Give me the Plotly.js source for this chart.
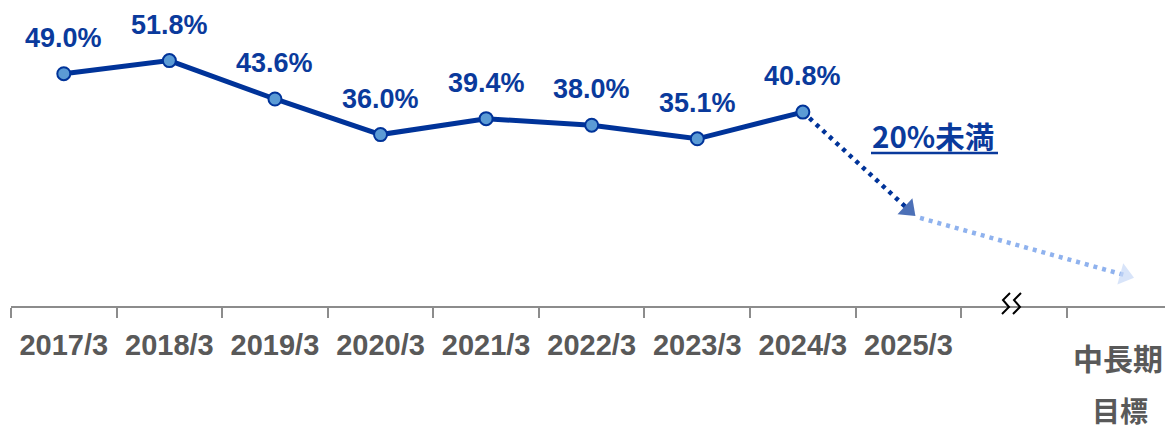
<!DOCTYPE html>
<html>
<head>
<meta charset="utf-8">
<script src="https://cdn.plot.ly/plotly-3.0.1.min.js"></script>
<style>html,body{margin:0;padding:0;background:#fff;}#chart{width:1165px;height:430px;}</style>
</head>
<body>
<div id="chart"></div>
<script>
// ---- data ----
const categories = ['2017/3', '2018/3', '2019/3', '2020/3', '2021/3', '2022/3', '2023/3', '2024/3', '2025/3', '', '中長期目標'];
const rates = [49.0, 51.8, 43.6, 36.0, 39.4, 38.0, 35.1, 40.8];
const targetLabel = '20%未満';
// projected path (category index, value): 2024/3 -> 2025/3 arrow, then -> 中長期 arrow
const projX1 = [7, 8.0];
const projY1 = [40.8, 20.0];
const projX2 = [8.11, 10.05];
const projY2 = [18.2, 6.0];

// ---- chart ----
const FONT = '"Liberation Sans", Arial, "Noto Sans CJK JP", sans-serif';
const CJK = '"Noto Sans CJK JP", "Liberation Sans", sans-serif';
const navy = '#0a3a9c';
const lineBlue = '#003399';
const xIdx = rates.map((_, i) => i);
const XR = [-0.5, 10.43];
const YR = [-0.6, 62.6];

const traces = [
  { x: projX2, y: projY2, mode: 'lines+markers', xaxis: 'x', yaxis: 'y',
    line: { color: '#8fb2ee', width: 4.5, dash: '4px,5px' },
    marker: { symbol: ['circle', 'triangle-up'], size: [0, 19], color: '#c7d9f7', angleref: 'previous', line: {width: 0} },
    hoverinfo: 'skip', showlegend: false },
  { x: projX1, y: projY1, mode: 'lines+markers', xaxis: 'x', yaxis: 'y',
    line: { color: lineBlue, width: 4.5, dash: '4px,5px' },
    marker: { symbol: ['circle', 'triangle-up'], size: [0, 19], color: lineBlue, angleref: 'previous', line: {width: 0} },
    hoverinfo: 'skip', showlegend: false },
  { x: xIdx, y: rates, mode: 'lines+markers', xaxis: 'x', yaxis: 'y',
    line: { color: lineBlue, width: 5 },
    marker: { size: 13, color: '#5b9bd5', line: { color: lineBlue, width: 2 } },
    hoverinfo: 'skip', showlegend: false },
  { x: [0], y: [-100], mode: 'markers', xaxis: 'x2', yaxis: 'y', marker: {opacity: 0}, hoverinfo: 'skip', showlegend: false }
];

const annotations = rates.map((v, i) => ({
  x: i, y: v, xref: 'x', yref: 'y', text: '<b>' + v.toFixed(1) + '%</b>', showarrow: false,
  yshift: 36, font: { family: FONT, size: 27, color: navy }
}));
annotations.push({
  x: 8.23, y: 36.0, xref: 'x', yref: 'y', text: '<b>' + targetLabel + '</b>', showarrow: false,
  font: { family: CJK, size: 29.5, color: navy }
});
annotations.push({ x: 10, y: 0, xref: 'x', yref: 'paper', text: '<b>中長期</b>', showarrow: false, yanchor: 'middle', yshift: -51, xshift: -2,
  font: { family: CJK, size: 30, color: '#595959' } });
annotations.push({ x: 10, y: 0, xref: 'x', yref: 'paper', text: '<b>目標</b>', showarrow: false, yanchor: 'middle', yshift: -104,
  font: { family: CJK, size: 28, color: '#595959' } });

// pixel helpers for decorative shapes (paper coordinates, not clipped)
const L = 11, W = 1154, T = 10, H = 296;
const pxp = p => (p - L) / W;
const pyp = p => (T + H - p) / H;
function zig(dx) {
  const pts = [[1010 + dx, 293], [1003 + dx, 300], [1009 + dx, 307], [1002 + dx, 314]];
  return 'M ' + pts.map(p => pxp(p[0]) + ',' + pyp(p[1])).join(' L ');
}
const shapes = [
  { type: 'path', xref: 'paper', yref: 'paper', path: zig(0), line: { color: '#000', width: 2 } },
  { type: 'path', xref: 'paper', yref: 'paper', path: zig(11), line: { color: '#000', width: 2 } },
  // underline for target label
  { type: 'line', xref: 'paper', yref: 'paper', x0: pxp(871), x1: pxp(998), y0: pyp(153), y1: pyp(153), line: { color: navy, width: 2.5 } }
];

const boundaries = [];
for (let i = 0; i <= 10; i++) boundaries.push(i - 0.5);

const layout = {
  width: 1165, height: 430,
  margin: { l: L, r: 0, t: T, b: 430 - T - H },
  paper_bgcolor: '#fff', plot_bgcolor: '#fff',
  xaxis: { range: XR, tickmode: 'array', tickvals: boundaries, ticktext: boundaries.map(() => ''),
    ticks: 'outside', ticklen: 10, tickwidth: 2, tickcolor: '#8c8c8c',
    showline: true, linecolor: '#8c8c8c', linewidth: 2, showgrid: false, zeroline: false, showticklabels: false, fixedrange: true },
  xaxis2: { range: XR, overlaying: 'x', anchor: 'y', side: 'bottom', tickmode: 'array',
    tickvals: categories.slice(0, 9).map((_, i) => i), ticktext: categories.slice(0, 9).map(c => '<b>' + c + '</b>'),
    ticks: '', showline: false, showgrid: false, zeroline: false, ticklabelstandoff: 19,
    tickfont: { family: FONT, size: 29, color: '#595959' }, fixedrange: true },
  yaxis: { range: YR, visible: false, showgrid: false, zeroline: false, fixedrange: true },
  annotations: annotations,
  shapes: shapes,
  showlegend: false
};

Plotly.newPlot('chart', traces, layout, { displayModeBar: false, staticPlot: true });
</script>
</body>
</html>
